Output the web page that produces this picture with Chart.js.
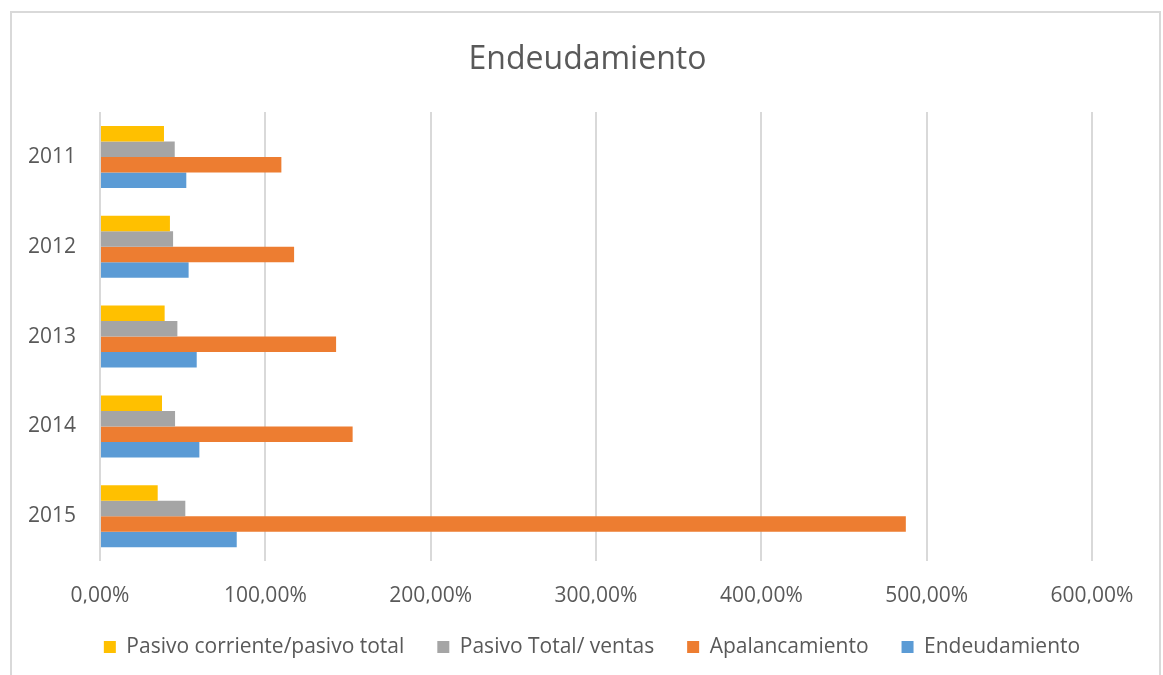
<!DOCTYPE html>
<html>
<head>
<meta charset="utf-8">
<script src="https://cdn.jsdelivr.net/npm/chart.js@4"></script>
<style>
    body { margin: 0; background: #ffffff; }
    #wrap { position: relative; width: 1163px; height: 675px; overflow: hidden; }
    #marco {
        position: absolute; left: 10px; top: 11px; width: 1151px; height: 700px;
        border: 2px solid #d9d9d9; box-sizing: border-box; pointer-events: none;
    }
    canvas { position: absolute; left: 0; top: 0; }
</style>
</head>
<body>
<div id="wrap">
    <canvas id="myChart" width="1163" height="675"></canvas>
    <div id="marco"></div>
</div>
<script>
// datos (en %)
let years = ['2011', '2012', '2013', '2014', '2015']
let pasivoCorriente = [38.7, 42.3, 39.1, 37.5, 34.9]
let pasivoTotalVentas = [45.2, 44.2, 46.8, 45.4, 51.6]
let apalancamiento = [109.7, 117.4, 142.8, 152.8, 487.4]
let endeudamiento = [52.2, 53.6, 58.5, 60.1, 82.7]

let seriesNames = ['Pasivo corriente/pasivo total', 'Pasivo Total/ ventas', 'Apalancamiento', 'Endeudamiento']
let xTicks = [0, 100, 200, 300, 400, 500, 600]

let colores = ['#FFC000', '#A5A5A5', '#ED7D31', '#5B9BD5']
let textColor = '#595959'
let fontFamily = "'Open Sans', sans-serif"

function formatPct(v){
    return v.toFixed(2).replace('.', ',') + '%'
}

function buildDatasets(){
    let valores = [pasivoCorriente, pasivoTotalVentas, apalancamiento, endeudamiento]
    let data = []
    for (let i=0; i<valores.length; i++){
        data.push({
            label: seriesNames[i],
            data: valores[i],
            backgroundColor: colores[i],
            borderWidth: 0,
            categoryPercentage: 0.69,
            barPercentage: 1.0,
        })
    }
    return data
}

// título y leyenda centrados en todo el marco, no sólo en el área del gráfico
let centrarBloques = {
    id: 'centrarBloques',
    afterLayout(chart){
        let bloques = [[chart.titleBlock, 12], [chart.legend, 21]]
        bloques.forEach(([bloque, izq]) => {
            if (!bloque){
                return
            }
            bloque.left = izq
            bloque.right = chart.width
            bloque.width = chart.width - izq
        })
    }
}

function newChart(){
    let ctx = document.querySelector('#myChart').getContext('2d')

    new Chart(ctx, {
        type: 'bar',
        data: {
            labels: years,
            datasets: buildDatasets(),
        },
        plugins: [centrarBloques],
        options: {
            indexAxis: 'y',
            responsive: false,
            animation: false,
            layout: {
                padding: { top: 13, left: 12, right: 71, bottom: 7.4 }
            },
            scales: {
                x: {
                    min: 0,
                    max: 600,
                    afterBuildTicks: (scale) => {
                        scale.ticks = xTicks.map(v => ({ value: v }))
                    },
                    afterFit: (scale) => { scale.height = 42.4 },
                    ticks: {
                        callback: (v) => formatPct(v),
                        color: textColor,
                        font: { family: fontFamily, size: 21 },
                        padding: 22,
                        maxRotation: 0,
                    },
                    grid: {
                        color: '#d9d9d9',
                        lineWidth: 2,
                        drawTicks: false,
                    },
                    border: { display: false },
                },
                y: {
                    afterFit: (scale) => { scale.width = 88 },
                    ticks: {
                        color: textColor,
                        font: { family: fontFamily, size: 21 },
                        padding: 24,
                    },
                    grid: { display: false, drawTicks: false },
                    border: { display: false },
                }
            },
            plugins: {
                title: {
                    display: true,
                    text: 'Endeudamiento',
                    color: textColor,
                    font: { family: fontFamily, size: 32, weight: 'normal' },
                    padding: { top: 27.8, bottom: 32.8 },
                },
                legend: {
                    position: 'bottom',
                    labels: {
                        color: textColor,
                        font: { family: fontFamily, size: 21 },
                        boxWidth: 12,
                        boxHeight: 12,
                        padding: 33,
                    }
                },
                tooltip: { enabled: false },
            },
        }
    })
}

newChart()
</script>
</body>
</html>
